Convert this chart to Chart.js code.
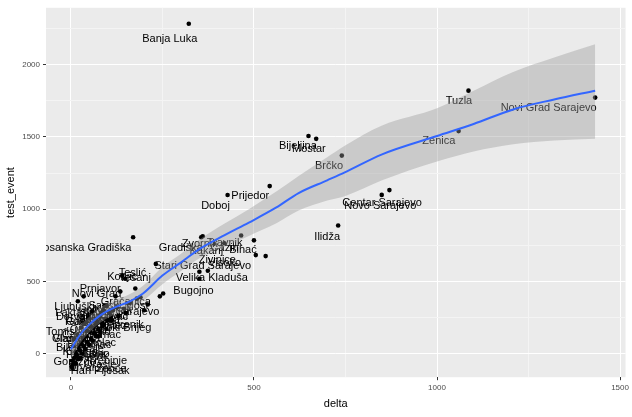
<!DOCTYPE html>
<html><head><meta charset="utf-8">
<script src="https://cdn.jsdelivr.net/npm/chart.js@4"></script>
<style>body{margin:0;background:#fff}#wrap{width:632px;height:417px}</style>
</head><body><div id="wrap"><canvas id="c"></canvas></div>
<script>
const pointsX = [322,1086,1432,1059,649,670,740,849,870,730,543,428,170,356,360,500,465,505,532,419,232,140,148,176,243,252,351,374,351,19,35,122,135,
  10,20,30,40,50,60,70,80,90,100,110,5,15,25,35,45,55,65,75,85,95,105,115,125,8,18,28,38,48,58,68,78,88,98,108,12,22,32,42,52,62,72,82,92,2,3,6,14,26,160,180,200,210,
  4,9,16,21,27,33,44,53,64,76,86,97,112,130,145,150,190];
const pointsY = [2285,1821,1773,1541,1507,1487,1371,1099,1132,887,1160,1098,805,805,812,784,818,682,675,764,621,539,518,450,396,416,566,573,518,362,396,396,430,
  -60,-40,0,30,60,90,120,150,200,230,260,-80,-20,20,50,80,100,140,170,210,240,280,300,320,100,130,180,210,250,290,200,260,300,330,240,10,60,90,120,150,180,220,280,330,-90,-50,50,-70,-30,350,380,300,340,
  -100,-30,-10,40,70,110,160,190,140,120,190,170,230,260,310,280,390];
const labelNames = ["Banja Luka","Tuzla","Novi Grad Sarajevo","Zenica","Bijeljina","Mostar","Brčko","Centar Sarajevo","Novo Sarajevo","Ilidža","Prijedor","Doboj","Bosanska Gradiška","Gradiška","Zvornik","Travnik","Cazin","Bihać","Kakanj","Živinice","Visoko","Stari Grad Sarajevo","Teslić","Tešanj","Velika Kladuša","Bugojno","Prnjavor","Novi Grad","Gračanica","Lukavac","Modriča","Kiseljak","Srebrenik","Konjic","Sanski Most","Ljubuški","Laktaši","Derventa","Gacko","Foča","Odžak","Šamac","Vlasenica","Sokolac","Bileća","Kupres","Ugljevik","Trebinje","Orašje","Žepče","Vitez","Maglaj","Zavidovići","Široki Brijeg","Čapljina","Bratunac","Goražde","Livno","Tomislavgrad","Posušje","Glamoč","Drvar","Istočno Sarajevo","Pale","Han Pijesak","Rudo"];
const labelX = [270,1060,1305,1005,620,650,705,850,845,700,490,395,35,300,352,420,420,470,370,400,420,360,168,175,385,335,80,70,150,100,80,115,135,140,
  130,10,5,20,30,60,40,90,15,70,0,25,50,100,80,110,120,60,90,140,30,50,10,70,20,40,0,30,130,60,80,20];
const labelY = [2180,1750,1700,1470,1440,1420,1300,1040,1020,810,1090,1020,730,730,760,765,730,720,710,650,630,610,560,520,520,430,450,410,360,250,230,300,200,530,
  330,320,280,250,220,190,160,130,100,70,40,10,-20,-50,-80,-110,190,230,260,180,130,60,-60,0,150,-10,100,-100,290,30,-120,220];
const curveX = [0,25,50,81,120,160,197,250,300,351,420,486,560,622,700,748,850,1000,1100,1208,1320,1432];
const curveY = [30,130,200,266,320,360,416,540,630,723,820,907,1010,1112,1200,1255,1380,1507,1590,1691,1760,1821];
const upperY = [100,190,255,320,370,410,470,600,690,790,900,1000,1120,1230,1360,1440,1580,1700,1820,1950,2050,2142];
const lowerY = [-40,70,145,215,270,310,365,480,570,660,740,815,900,990,1060,1090,1200,1330,1400,1450,1475,1487];
const xTicks = [0,500,1000,1500];
const yTicks = [0,500,1000,1500,2000];

const xy = (xs, ys) => xs.map((x, i) => ({ x, y: ys[i] }));
const FONT = "'Liberation Sans', Arial, sans-serif";

const bgPlugin = {
  id: "bg",
  beforeDraw(chart) {
    const a = chart.chartArea, ctx = chart.ctx;
    ctx.save(); ctx.fillStyle = "#EBEBEB";
    ctx.fillRect(a.left, a.top, a.right - a.left, a.bottom - a.top);
    ctx.restore();
  },
  beforeDatasetsDraw(chart) {
    const ctx = chart.ctx, sx = chart.scales.x, sy = chart.scales.y, a = chart.chartArea;
    ctx.save();
    ctx.beginPath(); ctx.rect(a.left, a.top, a.width, a.height); ctx.clip();
    ctx.fillStyle = "#000"; ctx.font = "11px " + FONT;
    ctx.textAlign = "center"; ctx.textBaseline = "middle";
    labelNames.forEach((n, i) => {
      ctx.fillText(n, sx.getPixelForValue(labelX[i]), sy.getPixelForValue(labelY[i]));
    });
    ctx.restore();
  }
};

const gridColor = (c) => (xTicks.includes(c.tick.value) || yTicks.includes(c.tick.value)) ? "#FFFFFF" : "#F4F4F4";
const tickCol = (list) => (c) => list.includes(c.tick.value) ? "#333333" : "rgba(0,0,0,0)";

new Chart(document.getElementById("c"), {
  data: {
    datasets: [
      { type: "line", data: xy(curveX, curveY), borderColor: "#3366FF", borderWidth: 2, pointRadius: 0, cubicInterpolationMode: "monotone", order: 1 },
      { type: "line", data: xy(curveX, upperY), borderWidth: 0, pointRadius: 0, fill: "+1", backgroundColor: "rgba(153,153,153,0.4)", cubicInterpolationMode: "monotone", order: 2 },
      { type: "line", data: xy(curveX, lowerY), borderWidth: 0, pointRadius: 0, fill: false, cubicInterpolationMode: "monotone", order: 2 },
      { type: "scatter", data: xy(pointsX, pointsY), backgroundColor: "#000", pointRadius: 2.3, borderWidth: 0, order: 3 }
    ]
  },
  options: {
    responsive: true, maintainAspectRatio: false, animation: false,
    layout: { padding: { top: 5, right: 2, bottom: 2, left: 0 } },
    plugins: { legend: { display: false }, tooltip: { enabled: false } },
    scales: {
      x: {
        type: "linear", min: -68, max: 1515,
        afterBuildTicks: (s) => { s.ticks = [0, 250, 500, 750, 1000, 1250, 1500].map(v => ({ value: v })); },
        ticks: { color: "#4D4D4D", font: { size: 8, family: FONT }, autoSkip: false,
          callback: (v) => xTicks.includes(v) ? v : "" },
        grid: { color: gridColor, tickColor: tickCol(xTicks), tickLength: 3 },
        border: { display: false },
        title: { display: true, text: "delta", color: "#000", font: { size: 11, family: FONT }, padding: { top: 2 } }
      },
      y: {
        type: "linear", min: -164, max: 2395,
        afterBuildTicks: (s) => { s.ticks = [0, 250, 500, 750, 1000, 1250, 1500, 1750, 2000, 2250].map(v => ({ value: v })); },
        ticks: { color: "#4D4D4D", font: { size: 8, family: FONT }, autoSkip: false,
          callback: (v) => yTicks.includes(v) ? v : "" },
        grid: { color: gridColor, tickColor: tickCol(yTicks), tickLength: 3 },
        border: { display: false },
        title: { display: true, text: "test_event", color: "#000", font: { size: 11, family: FONT }, padding: { bottom: 2 } }
      }
    }
  },
  plugins: [bgPlugin]
});
</script></body></html>
